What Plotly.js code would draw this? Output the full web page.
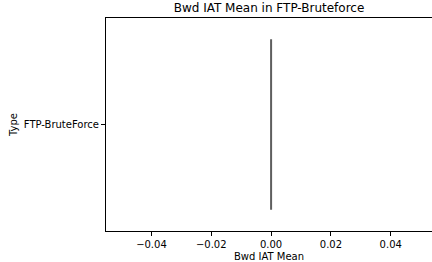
<!DOCTYPE html>
<html>
<head>
<meta charset="utf-8">
<script src="https://cdn.plot.ly/plotly-3.0.1.min.js"></script>
<style>html,body{margin:0;padding:0;overflow:hidden;background:#fff;}</style>
</head>
<body>
<div id="chart" style="width:432px;height:262px;"></div>
<script>
const categories = ["FTP-BruteForce"];
const bwdIatMean = [0, 0, 0, 0, 0, 0, 0, 0, 0, 0];
const xTicks = [-0.04, -0.02, 0.00, 0.02, 0.04];
const xTickLabels = ["\u22120.04", "\u22120.02", "0.00", "0.02", "0.04"];

const trace = {
  type: "box",
  orientation: "h",
  x: bwdIatMean,
  y: bwdIatMean.map(() => categories[0]),
  boxpoints: false,
  width: 0.8,
  fillcolor: "rgba(0,0,0,0)",
  line: {color: "#5f5f5f", width: 2},
  whiskerwidth: 0,
  hoverinfo: "skip"
};

const layout = {
  width: 432, height: 262,
  margin: {l: 106, r: 0, t: 18, b: 31},
  paper_bgcolor: "#fff", plot_bgcolor: "#fff",
  font: {family: "DejaVu Sans", size: 10, color: "#000"},
  title: {text: "Bwd IAT Mean in FTP-Bruteforce", font: {size: 12, color: "#000"}, x: 0.5, xref: "paper", y: 0.988, yref: "container", yanchor: "top"},
  showlegend: false,
  xaxis: {
    range: [-0.0552, 0.0538],
    tickvals: xTicks, ticktext: xTickLabels,
    ticks: "outside", ticklen: 4, tickcolor: "#000", tickwidth: 1,
    showgrid: false, zeroline: false,
    showline: true, linecolor: "#000", linewidth: 1, mirror: true,
    title: {text: "Bwd IAT Mean", font: {size: 10}, standoff: 4},
    fixedrange: true
  },
  yaxis: {
    type: "category",
    range: [-0.5, 0.5],
    ticks: "outside", ticklen: 4, tickcolor: "#000", tickwidth: 1,
    showgrid: false, zeroline: false,
    showline: true, linecolor: "#000", linewidth: 1,
    title: {text: "Type", font: {size: 10}, standoff: 4},
    fixedrange: true
  }
};

Plotly.newPlot("chart", [trace], layout, {displayModeBar: false, staticPlot: true});
</script>
</body>
</html>
